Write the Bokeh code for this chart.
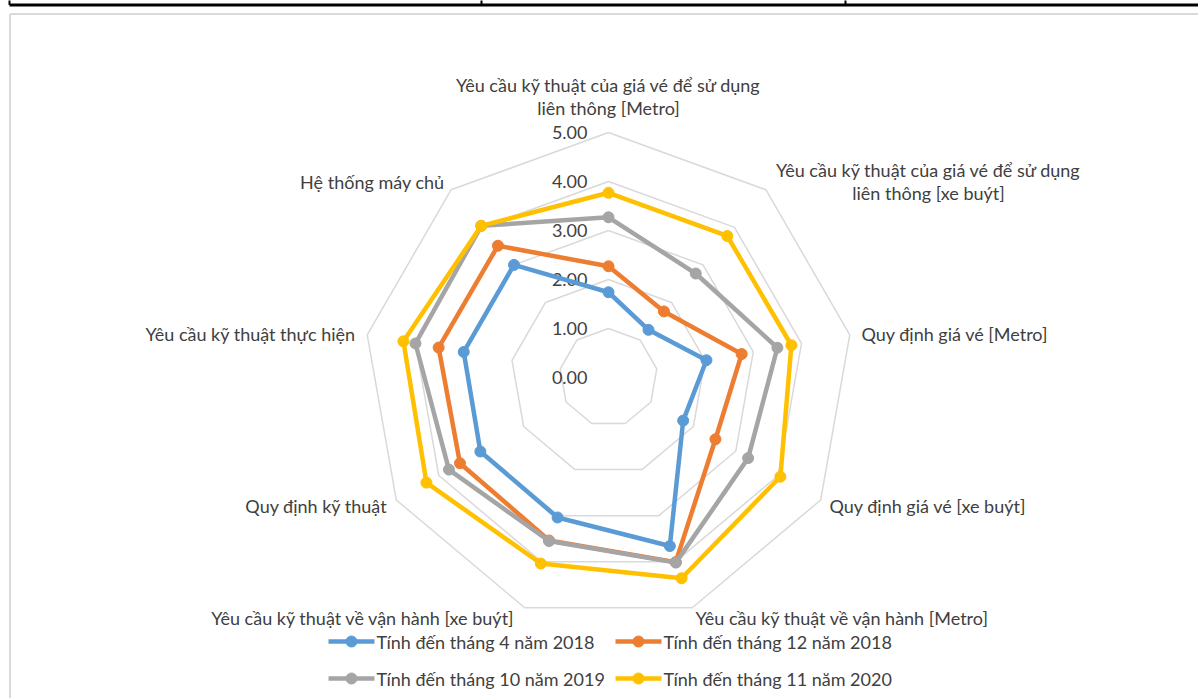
import math
from bokeh.plotting import figure
from bokeh.models import Range1d
from bokeh.core.properties import value
from bokeh.embed import file_html
from bokeh.resources import INLINE

# ---------------- data ----------------
categories = [
    "Yêu cầu kỹ thuật của giá vé để sử dụng\nliên thông [Metro]",
    "Yêu cầu kỹ thuật của giá vé để sử dụng\nliên thông [xe buýt]",
    "Quy định giá vé [Metro]",
    "Quy định giá vé [xe buýt]",
    "Yêu cầu kỹ thuật về vận hành [Metro]",
    "Yêu cầu kỹ thuật về vận hành  [xe buýt]",
    "Quy định kỹ thuật",
    "Yêu cầu kỹ thuật thực hiện",
    "Hệ thống máy chủ",
]
series_names = [
    "Tính đến tháng 4 năm 2018",
    "Tính đến tháng 12 năm 2018",
    "Tính đến tháng 10 năm 2019",
    "Tính đến tháng 11 năm 2020",
]
apr_2018 = [1.74, 1.27, 2.03, 1.76, 3.66, 3.04, 3.02, 3.00, 3.00]
dec_2018 = [2.27, 1.76, 2.76, 2.52, 4.01, 3.54, 3.50, 3.52, 3.51]
oct_2019 = [3.27, 2.77, 3.50, 3.29, 4.02, 3.55, 3.76, 4.00, 4.04]
nov_2020 = [3.77, 3.77, 3.79, 4.05, 4.36, 4.04, 4.29, 4.25, 4.04]
tick_values = [0, 1, 2, 3, 4, 5]
tick_labels = ["0.00", "1.00", "2.00", "3.00", "4.00", "5.00"]

series = [apr_2018, dec_2018, oct_2019, nov_2020]
colors = ["#5B9BD5", "#ED7D31", "#A5A5A5", "#FFC000"]

# ---------------- layout helpers ----------------
W, H = 1198, 698
CX, CY = 608, 377          # pixel position of radar centre
U = 49.0                   # pixels per value unit


def px(x):
    return (x - CX) / U


def py(y):
    return (CY - y) / U


FONT = "Lato"
FS = "18px"
TXT = "#404040"

p = figure(width=W, height=H, output_backend="svg", toolbar_location=None,
           x_range=Range1d(px(0), px(W)), y_range=Range1d(py(H), py(0)),
           min_border=0)
p.axis.visible = False
p.grid.visible = False
p.outline_line_color = None
p.background_fill_color = "white"

# fragment of the table above the chart
p.line([px(9), px(W + 2)], [py(4.5), py(4.5)], line_color="black", line_width=3)
for vx in (9, 481, 845):
    p.line([px(vx), px(vx)], [py(-2), py(4.5)], line_color="black", line_width=2)

# chart-area border (light grey) at the left and top
p.line([px(9.5), px(9.5)], [py(13.5), py(H + 2)], line_color="#d9d9d9", line_width=2)
p.line([px(9.5), px(W + 2)], [py(13.5), py(13.5)], line_color="#d9d9d9", line_width=2)

n = len(categories)
angles = [2 * math.pi * i / n for i in range(n)]

# rings
for t in tick_values[1:]:
    xs = [t * math.sin(a) for a in angles] + [0]
    ys = [t * math.cos(a) for a in angles] + [t]
    p.line(xs, ys, line_color="#d9d9d9", line_width=1.5)

# tick labels
p.text([px(587)] * len(tick_values), [t for t in tick_values], text=tick_labels,
       text_font=value(FONT), text_font_size=FS, text_color=TXT,
       text_align="right", text_baseline="middle")

# series
for vals, col in zip(series, colors):
    xs = [v * math.sin(a) for v, a in zip(vals, angles)]
    ys = [v * math.cos(a) for v, a in zip(vals, angles)]
    p.line(xs + xs[:1], ys + ys[:1], line_color=col, line_width=4.5, line_join="round")
    p.scatter(xs, ys, size=11, fill_color=col, line_color=col)

# category labels (pixel anchors)
label_pos = [
    (608, 84, "center"),
    (928, 169, "center"),
    (861, 333, "left"),
    (829, 505, "left"),
    (695, 617, "left"),
    (519, 617, "right"),
    (387, 505, "right"),
    (355, 333, "right"),
    (444, 181, "right"),
]
for cat, (lx, ly, al) in zip(categories, label_pos):
    for k, line in enumerate(cat.split("\n")):
        p.text([px(lx)], [py(ly + 23 * k)], text=[line], text_font=value(FONT),
               text_font_size=FS, text_color=TXT, text_align=al, text_baseline="middle")

# legend
leg = [(328, 641), (615, 641), (328, 678), (615, 678)]
for name, col, (lx, ly) in zip(series_names, colors, leg):
    p.line([px(lx), px(lx + 46)], [py(ly), py(ly)], line_color=col, line_width=4.5)
    p.scatter([px(lx + 23)], [py(ly)], size=11, fill_color=col, line_color=col)
    p.text([px(lx + 48)], [py(ly)], text=[name], text_font=value(FONT),
           text_font_size=FS, text_color=TXT, text_align="left", text_baseline="middle")

open("out.html", "w").write(file_html(p, INLINE))
